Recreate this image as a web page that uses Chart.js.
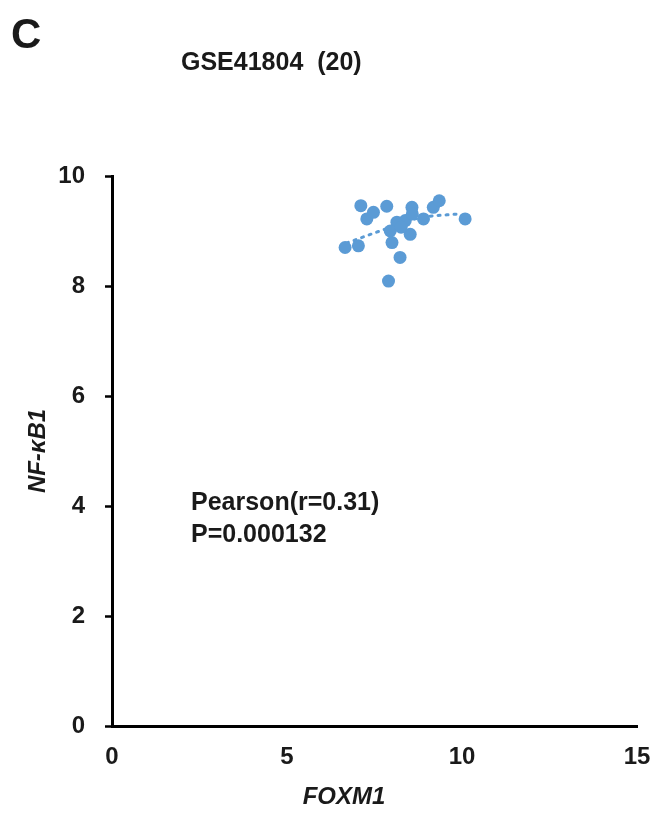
<!DOCTYPE html>
<html>
<head>
<meta charset="utf-8">
<script src="https://cdn.jsdelivr.net/npm/chart.js@4/dist/chart.umd.min.js"></script>
<style>
html, body { margin: 0; padding: 0; background: #fff; }
#wrap { position: relative; width: 652px; height: 813px; }
</style>
</head>
<body>
<div id="wrap"><canvas id="chart" width="652" height="813"></canvas></div>
<script>

// FOXM1 vs NF-kB1 expression, GSE41804
const foxm1 = [6.66, 7.04, 7.11, 7.28, 7.47, 7.85, 8.57, 9.18, 9.35, 8.90,
               10.09, 8.14, 8.38, 7.95, 8.52, 8.00, 8.23, 7.90, 8.26, 8.58];
const nfkb1 = [8.70, 8.73, 9.46, 9.22, 9.34, 9.45, 9.43, 9.43, 9.55, 9.22,
               9.22, 9.16, 9.19, 9.00, 8.94, 8.79, 8.52, 8.09, 9.07, 9.31];

// dotted trend line as drawn in the figure
const trendX = [6.7, 7.7, 8.8, 9.9];
const trendY = [8.78, 9.01, 9.24, 9.31];

const xTicks = [0, 5, 10, 15];
const yTicks = [0, 2, 4, 6, 8, 10];

const panelLabel = "C";
const chartTitle = "GSE41804  (20)";
const statLines = ["Pearson(r=0.31)", "P=0.000132"];

const blue = "#5b9bd5";
const font = "'Liberation Sans', Arial, sans-serif";

// extra texts: panel letter, title, stats, x axis name
const textPlugin = {
  id: "texts",
  afterDraw(chart) {
    const c = chart.ctx;
    c.save();
    c.fillStyle = "#1a1a1a";
    c.textBaseline = "middle";
    c.textAlign = "left";
    c.font = "bold 42px " + font;
    c.fillText(panelLabel, 11, 36);
    c.font = "bold 25px " + font;
    c.fillText(chartTitle, 181, 63);
    c.fillText(statLines[0], 191, 503);
    c.fillText(statLines[1], 191, 535);
    c.textAlign = "center";
    c.font = "italic bold 24px " + font;
    c.fillText("FOXM1", 344, 797);
    c.restore();
  }
};

const points = foxm1.map((x, i) => ({x: x, y: nfkb1[i]}));
const trend = trendX.map((x, i) => ({x: x, y: trendY[i]}));

new Chart(document.getElementById("chart"), {
  type: "scatter",
  data: {
    datasets: [{
      label: "samples",
      data: points,
      backgroundColor: blue,
      borderColor: blue,
      pointRadius: 6.5,
      borderWidth: 0,
      order: 1
    }, {
      label: "trend",
      type: "line",
      data: trend,
      borderColor: blue,
      borderWidth: 3,
      borderDash: [2, 6],
      borderCapStyle: "round",
      pointRadius: 0,
      fill: false,
      cubicInterpolationMode: "monotone",
      order: 2
    }]
  },
  options: {
    responsive: false,
    animation: false,
    layout: { padding: { top: 176, right: 15, bottom: 0, left: 0 } },
    plugins: { legend: { display: false }, tooltip: { enabled: false } },
    scales: {
      x: {
        type: "linear",
        min: 0, max: 15,
        afterBuildTicks: s => { s.ticks = xTicks.map(v => ({value: v})); },
        afterFit: s => { s.height = 87; s.paddingLeft = 0; s.paddingRight = 0; },
        grid: { display: false, drawTicks: false },
        border: { display: true, color: "#000", width: 3 },
        ticks: { color: "#1a1a1a", padding: 17, font: { family: font, size: 24, weight: "bold" } }
      },
      y: {
        type: "linear",
        min: 0, max: 10,
        afterBuildTicks: s => { s.ticks = yTicks.map(v => ({value: v})); },
        afterFit: s => { s.width = 112; s.paddingTop = 0; s.paddingBottom = 0; },
        grid: { drawOnChartArea: false, drawTicks: true, tickLength: 7, tickWidth: 2.5, color: "#000" },
        border: { display: true, color: "#000", width: 3 },
        ticks: { color: "#1a1a1a", padding: 20, font: { family: font, size: 24, weight: "bold" } },
        title: {
          display: true,
          text: "NF-κB1",
          color: "#1a1a1a",
          padding: { top: 24, bottom: 0 },
          font: { family: font, size: 24, weight: "bold", style: "italic" }
        }
      }
    }
  },
  plugins: [textPlugin]
});
</script>
</body>
</html>
